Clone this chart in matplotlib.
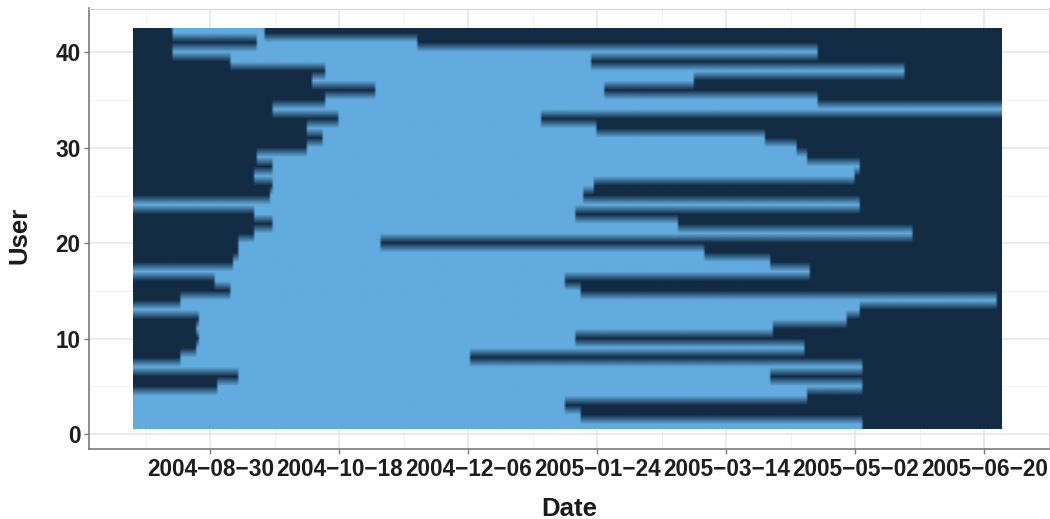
import numpy as np
import matplotlib
matplotlib.use('Agg')
import matplotlib.pyplot as plt
import matplotlib.dates as mdates
from matplotlib.colors import LinearSegmentedColormap

# one active period per user (first / last active day)
users = np.arange(1, 43)
first_active = [
    '2004-08-01', '2004-08-01', '2004-08-01', '2004-08-01', '2004-09-02',
    '2004-09-10', '2004-08-01', '2004-08-19', '2004-08-25', '2004-08-26',
    '2004-08-25', '2004-08-26', '2004-08-01', '2004-08-19', '2004-09-07',
    '2004-09-01', '2004-08-01', '2004-09-08', '2004-09-10', '2004-09-10',
    '2004-09-16', '2004-09-23', '2004-09-16', '2004-08-01', '2004-09-22',
    '2004-09-23', '2004-09-16', '2004-09-23', '2004-09-17', '2004-10-06',
    '2004-10-12', '2004-10-06', '2004-10-18', '2004-09-23', '2004-10-13',
    '2004-11-01', '2004-10-08', '2004-10-13', '2004-09-07', '2004-08-16',
    '2004-09-17', '2004-08-16',
]
last_active = [
    '2005-05-04', '2005-01-17', '2005-01-11', '2005-04-13', '2005-05-04',
    '2005-03-30', '2005-05-04', '2004-12-06', '2005-04-12', '2005-01-15',
    '2005-03-31', '2005-04-28', '2005-05-03', '2005-06-24', '2005-01-17',
    '2005-01-11', '2005-04-14', '2005-03-30', '2005-03-05', '2004-11-02',
    '2005-05-23', '2005-02-23', '2005-01-15', '2005-05-03', '2005-01-18',
    '2005-01-22', '2005-05-01', '2005-05-03', '2005-04-13', '2005-04-09',
    '2005-03-28', '2005-01-23', '2005-01-02', '2005-06-26', '2005-04-17',
    '2005-01-26', '2005-03-01', '2005-05-20', '2005-01-21', '2005-04-17',
    '2004-11-16', '2004-09-19',
]
first_day = '2004-08-01'
last_day = '2005-06-26'
tick_dates = ['2004-08-30', '2004-10-18', '2004-12-06', '2005-01-24',
              '2005-03-14', '2005-05-02', '2005-06-20']

days = np.arange(np.datetime64(first_day), np.datetime64(last_day) + 1)
start = np.array(first_active, dtype='datetime64[D]')
end = np.array(last_active, dtype='datetime64[D]')
active = ((days[None, :] >= start[:, None]) & (days[None, :] <= end[:, None])).astype(float)

xd = mdates.date2num(days)
x0, x1 = xd[0] - 0.5, xd[-1] + 0.5
y0, y1 = users[0] - 0.5, users[-1] + 0.5

dark = '#132B43'
light = '#62ABDE'
cmap = LinearSegmentedColormap.from_list('act', [dark, light])

plt.rcParams['font.family'] = 'Liberation Sans'
plt.rcParams['font.weight'] = 'bold'

fig = plt.figure(figsize=(10.5, 5.19), dpi=100)
ax = fig.add_axes([89.3 / 1050, 69.7 / 519, (1049 - 89.3) / 1050, (449.3 - 8.5) / 519])

ax.imshow(active, cmap=cmap, vmin=0, vmax=1, interpolation='bilinear',
          origin='lower', aspect='auto', extent=[x0, x1, y0, y1], zorder=2)

# ggplot-like 5% expansion
ex = 0.05 * (x1 - x0)
ey = 0.05 * (y1 - y0)
ax.set_xlim(x0 - ex, x1 + ex)
ax.set_ylim(y0 - ey, y1 + ey)

tk = mdates.date2num(np.array(tick_dates, dtype='datetime64[D]'))
step = tk[1] - tk[0]
ax.set_xticks(tk)
ax.set_xticklabels([t.replace('-', '\u2212') for t in tick_dates])
ax.set_xticks(np.concatenate([[tk[0] - step / 2], tk + step / 2]), minor=True)
ax.set_yticks([0, 10, 20, 30, 40])
ax.set_yticks([5, 15, 25, 35], minor=True)

ax.grid(which='major', color='#e4e4e4', lw=1.1, zorder=0)
ax.grid(which='minor', color='#f2f2f2', lw=0.7, zorder=0)
ax.set_axisbelow(True)

for s in ['top', 'right']:
    ax.spines[s].set_color('#d4d4d4')
    ax.spines[s].set_linewidth(0.8)
for s in ['left', 'bottom']:
    ax.spines[s].set_color('#7a7a7a')
    ax.spines[s].set_linewidth(1.2)

ax.tick_params(which='major', length=3.5, width=1.0, color='#7a7a7a',
               labelsize=16.3, labelcolor='#1e1e1e', pad=3)
ax.tick_params(which='minor', length=0)

ax.set_xlabel('Date', fontsize=18.5, fontweight='bold', color='#1a1a1a')
ax.set_ylabel('User', fontsize=18.5, fontweight='bold', color='#1a1a1a')
ax.xaxis.label.set_va('center')
ax.yaxis.label.set_va('center')
ax.xaxis.set_label_coords(0.5, (449.3 - 509) / 440.8)
ax.yaxis.set_label_coords((20 - 89.3) / 959.7, 0.485)

fig.savefig('out.png', dpi=100)
